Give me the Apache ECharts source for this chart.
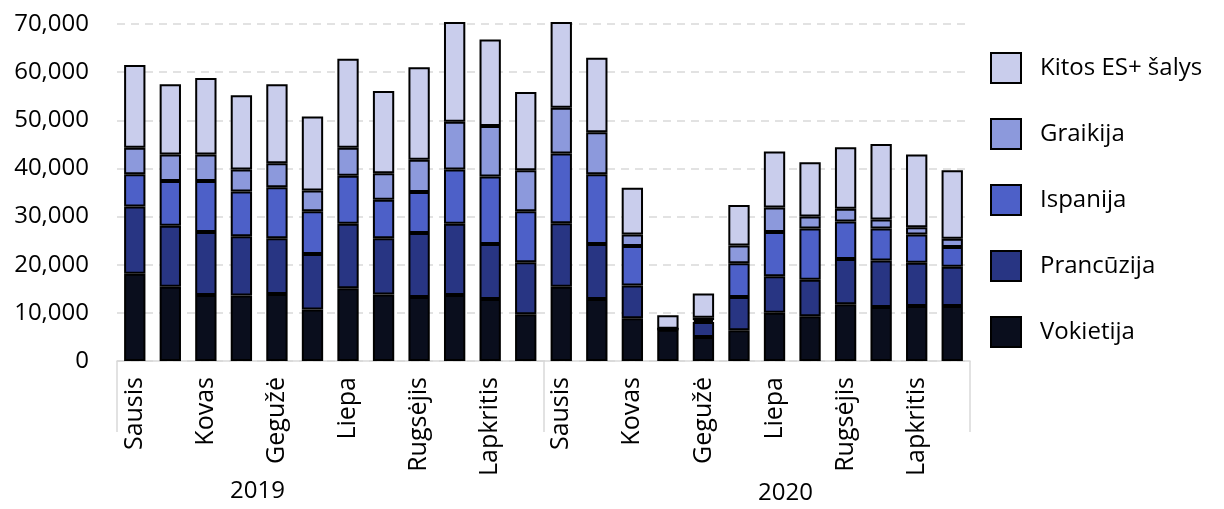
<!DOCTYPE html>
<html>
<head>
<meta charset="utf-8">
<script src="https://cdn.jsdelivr.net/npm/echarts@6/dist/echarts.min.js"></script>
<style>
html,body{margin:0;padding:0;background:#fff;}
#c{width:1224px;height:509px;}
</style>
</head>
<body>
<div id="c"></div>
<script>
var months = ['Sausis','Vasaris','Kovas','Balandis','Gegužė','Birželis','Liepa','Rugpjūtis','Rugsėjis','Spalis','Lapkritis','Gruodis',
              'Sausis','Vasaris','Kovas','Balandis','Gegužė','Birželis','Liepa','Rugpjūtis','Rugsėjis','Spalis','Lapkritis','Gruodis'];
var years = ['2019','2020'];
var yTicks = [0,10000,20000,30000,40000,50000,60000,70000];

var vokietija  = [18100,15400,13700,13600,13900,10700,15100,13800,13300,13700,12900,9700, 15400,12900,8900,6500,5000,6400,10000,9300,11800,11200,11400,11400];
var prancuzija = [14000,12700,13100,12300,11600,11500,13400,11700,13300,14800,11400,10800, 13200,11400,6800,100,3100,6900,7600,7600,9400,9700,9000,8200];
var ispanija   = [6700,9300,10600,9300,10600,8900,10000,8000,8500,11300,14000,10600, 14500,14500,8200,50,400,7000,9200,10600,7800,6600,5900,4100];
var graikija   = [5500,5500,5500,4600,5000,4300,5800,5500,6700,9900,10500,8500, 9500,8700,2400,50,500,3700,5100,2500,2600,1900,1500,1700];
var kitos      = [17200,14600,15900,15400,16400,15400,18500,17100,19200,20700,18000,16300, 17800,15500,9700,2800,5000,8400,11600,11300,12800,15700,15100,14200];

var seriesNames = ['Vokietija','Prancūzija','Ispanija','Graikija','Kitos ES+ šalys'];
var seriesData = [vokietija, prancuzija, ispanija, graikija, kitos];
var colors = ['#0a0e1d','#283583','#4d60c8','#8c99dc','#c9cdec'];
var FONT = 'Open Sans';

var chart = echarts.init(document.getElementById('c'));
var series = seriesNames.map(function(n,i){
  return {
    name:n, type:'bar', stack:'total', data:seriesData[i], barWidth:'60%', clip:false,
    itemStyle:{color:colors[i], borderColor:'#000', borderWidth:2},
    emphasis:{disabled:true}
  };
});
chart.setOption({
  animation:false,
  textStyle:{fontFamily:FONT},
  color:colors,
  grid:{left:117,right:254,top:24,bottom:148,containLabel:false},
  legend:{
    orient:'vertical', left:985, top:47,
    data:['Kitos ES+ šalys','Graikija','Ispanija','Prancūzija','Vokietija'],
    itemWidth:30, itemHeight:30, itemGap:34,
    icon:'rect',
    itemStyle:{borderColor:'#000', borderWidth:2},
    textStyle:{fontSize:24, color:'#000', fontFamily:FONT, padding:[8,0,0,14]}
  },
  xAxis:[{
    type:'category', data:months, position:'bottom',
    axisLine:{lineStyle:{color:'#d9d9d9', width:1.5}},
    axisTick:{show:false},
    axisLabel:{interval:1, rotate:90, fontSize:25, color:'#000', fontFamily:FONT, margin:16}
  },{
    type:'category', data:years, position:'bottom',
    axisLine:{show:false},
    axisTick:{show:true, inside:false, length:71, lineStyle:{color:'#d9d9d9', width:1.5}},
    axisLabel:{show:false}
  }],
  yAxis:{
    type:'value', min:0, max:70000, interval:10000,
    axisLine:{show:false}, axisTick:{show:false},
    splitLine:{lineStyle:{color:'#d9d9d9', type:[8,6], width:1.5}},
    axisLabel:{fontSize:24, color:'#000', fontFamily:FONT, margin:28,
      formatter:function(v){return v.toLocaleString('en-US');}}
  },
  graphic:[
    {type:'text', left:230, top:479, style:{text:years[0], fontSize:24, fill:'#000', fontFamily:FONT}},
    {type:'text', left:758, top:481, style:{text:years[1], fontSize:24, fill:'#000', fontFamily:FONT}}
  ],
  series:series
});
</script>
</body>
</html>
